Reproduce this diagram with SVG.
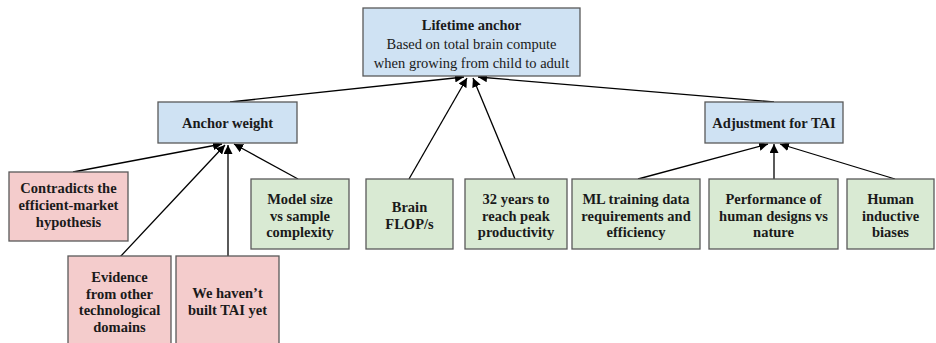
<svg xmlns="http://www.w3.org/2000/svg" width="936" height="343" viewBox="0 0 936 343">
<defs>
<marker id="ah" markerUnits="userSpaceOnUse" markerWidth="10" markerHeight="9" refX="9" refY="4.5" orient="auto">
<path d="M0,0 L9,4.5 L0,9 Z" fill="#000"/>
</marker>
<style>
.box{stroke:#595959;stroke-width:1.3}
.blue{fill:#cfe2f3}
.green{fill:#d9ead3}
.pink{fill:#f4cccc}
text{font-family:"Liberation Serif","DejaVu Serif",serif;font-size:14.5px;fill:#1a1a1a;text-anchor:middle}
.b{font-weight:bold}
.c line{stroke:#000;stroke-width:1.3;marker-end:url(#ah)}
</style>
</defs>
<rect width="936" height="343" fill="#fff"/>
<g class="c" id="connectors">
<line x1="230" y1="102" x2="464" y2="77"/>
<line x1="409" y1="179" x2="467" y2="78"/>
<line x1="515" y1="179" x2="473" y2="78"/>
<line x1="774" y1="102" x2="478" y2="77"/>
<line x1="73" y1="172" x2="222" y2="144"/>
<line x1="120" y1="257" x2="225" y2="145"/>
<line x1="228" y1="257" x2="228" y2="145"/>
<line x1="298" y1="179" x2="234" y2="144"/>
<line x1="638" y1="179" x2="768" y2="144"/>
<line x1="774" y1="179" x2="774" y2="144"/>
<line x1="895" y1="179" x2="780" y2="144"/>
</g>
<g id="lifetime">
<rect class="box blue" x="363" y="8" width="217" height="68"/>
<text x="471.5" y="30" class="b">Lifetime anchor</text>
<text x="471.5" y="49">Based on total brain compute</text>
<text x="471.5" y="68">when growing from child to adult</text>
</g>
<g id="anchor-weight">
<rect class="box blue" x="158" y="102" width="139" height="41"/>
<text x="227.5" y="127.5" class="b">Anchor weight</text>
</g>
<g id="adjustment">
<rect class="box blue" x="705" y="102" width="138" height="41"/>
<text x="774" y="127.5" class="b">Adjustment for TAI</text>
</g>
<g id="contradicts">
<rect class="box pink" x="9" y="172" width="119" height="69"/>
<text x="68.5" y="193" class="b">Contradicts the</text>
<text x="68.5" y="210" class="b">efficient-market</text>
<text x="68.5" y="227" class="b">hypothesis</text>
</g>
<g id="evidence">
<rect class="box pink" x="68" y="256" width="103" height="100"/>
<text x="119.5" y="282" class="b">Evidence</text>
<text x="119.5" y="298.5" class="b">from other</text>
<text x="119.5" y="315" class="b">technological</text>
<text x="119.5" y="331.5" class="b">domains</text>
</g>
<g id="havent">
<rect class="box pink" x="176" y="256" width="103" height="100"/>
<text x="227.5" y="298" class="b">We haven’t</text>
<text x="227.5" y="315" class="b">built TAI yet</text>
</g>
<g id="model-size">
<rect class="box green" x="251" y="179" width="98" height="70"/>
<text x="300" y="204" class="b">Model size</text>
<text x="300" y="220.5" class="b">vs sample</text>
<text x="300" y="237" class="b">complexity</text>
</g>
<g id="brain">
<rect class="box green" x="366" y="179" width="87" height="70"/>
<text x="409.5" y="212" class="b">Brain</text>
<text x="409.5" y="229" class="b">FLOP/s</text>
</g>
<g id="years">
<rect class="box green" x="465" y="179" width="102" height="70"/>
<text x="516" y="204" class="b">32 years to</text>
<text x="516" y="220.5" class="b">reach peak</text>
<text x="516" y="237" class="b">productivity</text>
</g>
<g id="ml">
<rect class="box green" x="572" y="179" width="128" height="70"/>
<text x="636" y="204" class="b">ML training data</text>
<text x="636" y="220.5" class="b">requirements and</text>
<text x="636" y="237" class="b">efficiency</text>
</g>
<g id="performance">
<rect class="box green" x="709" y="179" width="129" height="70"/>
<text x="773.5" y="204" class="b">Performance of</text>
<text x="773.5" y="220.5" class="b">human designs vs</text>
<text x="773.5" y="237" class="b">nature</text>
</g>
<g id="human">
<rect class="box green" x="847" y="179" width="87" height="70"/>
<text x="890.5" y="204" class="b">Human</text>
<text x="890.5" y="220.5" class="b">inductive</text>
<text x="890.5" y="237" class="b">biases</text>
</g>
</svg>
